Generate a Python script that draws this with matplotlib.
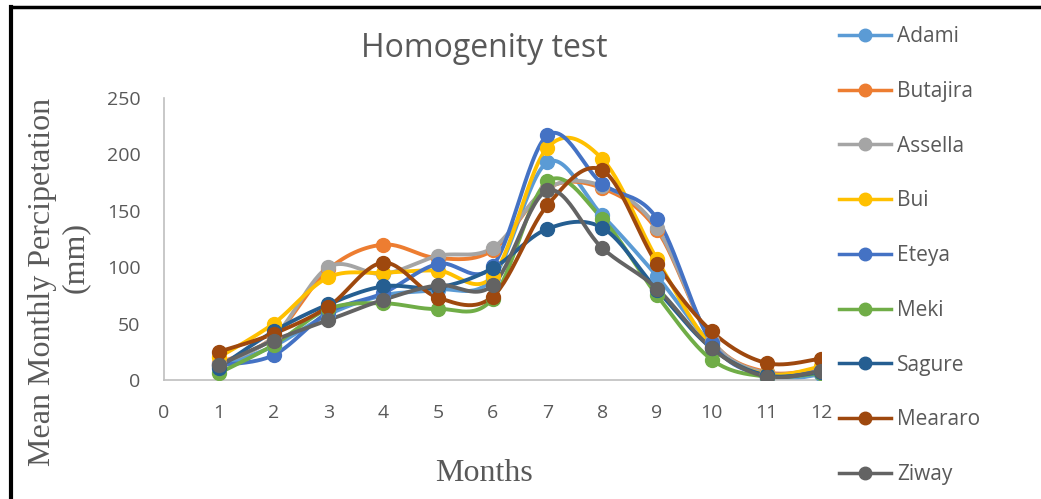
import numpy as np
import matplotlib
matplotlib.use("Agg")
import matplotlib.pyplot as plt
from matplotlib.lines import Line2D

# Mean monthly precipitation (mm) per station
months = [1, 2, 3, 4, 5, 6, 7, 8, 9, 10, 11, 12]
adami = [12, 30, 58, 75, 80, 90, 193, 146, 92, 32, 2, 5]
butajira = [15, 38, 98, 120, 108, 115, 170, 170, 133, 35, 7, 10]
assella = [14, 38, 100, 94, 110, 117, 170, 172, 135, 35, 6, 10]
bui = [20, 50, 91, 95, 97, 92, 206, 196, 107, 30, 5, 12]
eteya = [13, 22, 60, 77, 103, 101, 217, 174, 143, 33, 4, 8]
meki = [6, 31, 63, 68, 63, 72, 176, 143, 75, 18, 3, 6]
sagure = [11, 43, 67, 83, 82, 99, 134, 135, 80, 28, 4, 7]
meararo = [25, 41, 65, 104, 73, 74, 155, 186, 103, 43, 15, 19]
ziway = [13, 35, 53, 71, 84, 84, 168, 117, 81, 28, 3, 8]

stations = ["Adami", "Butajira", "Assella", "Bui", "Eteya", "Meki", "Sagure", "Meararo", "Ziway"]
series = [adami, butajira, assella, bui, eteya, meki, sagure, meararo, ziway]
colors = ["#5B9BD5", "#ED7D31", "#A5A5A5", "#FFC000", "#4472C4",
          "#70AD47", "#255E91", "#9E480E", "#636363"]

TEXT = "#595959"


def smooth(x, y, n=30):
    # Excel-like smoothed line: cubic Bezier with 1/6 tangent control points
    x = np.asarray(x, float)
    y = np.asarray(y, float)
    px = np.concatenate([[x[0]], x, [x[-1]]])
    py = np.concatenate([[y[0]], y, [y[-1]]])
    t = np.linspace(0, 1, n)[:, None]
    xs, ys = [], []
    for i in range(1, len(x)):
        p0 = np.array([px[i], py[i]])
        p3 = np.array([px[i + 1], py[i + 1]])
        c1 = p0 + (p3 - np.array([px[i - 1], py[i - 1]])) / 6
        c2 = p3 - (np.array([px[i + 2], py[i + 2]]) - p0) / 6
        pts = ((1 - t) ** 3) * p0 + 3 * ((1 - t) ** 2) * t * c1 + 3 * (1 - t) * t ** 2 * c2 + t ** 3 * p3
        xs.append(pts[:, 0])
        ys.append(pts[:, 1])
    return np.concatenate(xs), np.concatenate(ys)


fig = plt.figure(figsize=(10.41, 4.99), dpi=100)
ax = fig.add_axes([0.1575, 0.2385, 0.6315, 0.5651])

for name, vals, c in zip(stations, series, colors):
    sx, sy = smooth(months, vals)
    ax.plot(sx, sy, color=c, lw=2.8, solid_capstyle="round", zorder=2)
    ax.plot(months, vals, "o", color=c, ms=10, zorder=3)

ax.set_xlim(0, 12)
ax.set_ylim(0, 250)
ax.set_xticks(range(0, 13))
ax.set_yticks(range(0, 251, 50))
ax.tick_params(length=0, labelsize=14, colors=TEXT, pad=17)
for lab in ax.get_xticklabels() + ax.get_yticklabels():
    lab.set_fontfamily("Open Sans")
for s in ["top", "right"]:
    ax.spines[s].set_visible(False)
for s in ["left", "bottom"]:
    ax.spines[s].set_color("#BFBFBF")
    ax.spines[s].set_linewidth(1.2)

fig.text(0.465, 0.903, "Homogenity test", ha="center", va="center",
         fontsize=23, color=TEXT, family="Open Sans")
fig.text(0.465, 0.052, "Months", ha="center", va="center",
         fontsize=23, color=TEXT, family="Liberation Serif")
fig.text(0.041, 0.435, "Mean Monthly Percipetation", ha="center", va="center",
         rotation=90, fontsize=23, color=TEXT, family="Liberation Serif")
fig.text(0.072, 0.483, "(mm)", ha="center", va="center",
         rotation=90, fontsize=23, color=TEXT, family="Liberation Serif")

handles = [Line2D([], [], color=c, lw=2.5, marker="o", ms=9) for c in colors]
leg = fig.legend(handles, stations, loc="upper left", bbox_to_anchor=(0.788, 0.985),
                 frameon=False, handlelength=2.5, labelspacing=1.62,
                 prop={"family": "Open Sans", "size": 15}, handletextpad=0.3)
for t in leg.get_texts():
    t.set_color(TEXT)

# black frame on top and left
fig.add_artist(Line2D([0.0105, 1.0], [0.986, 0.986], color="black", lw=2.5,
                      transform=fig.transFigure))
fig.add_artist(Line2D([0.0105, 0.0105], [0.0, 0.986], color="black", lw=3,
                      transform=fig.transFigure))

fig.savefig("out.png", dpi=100)
